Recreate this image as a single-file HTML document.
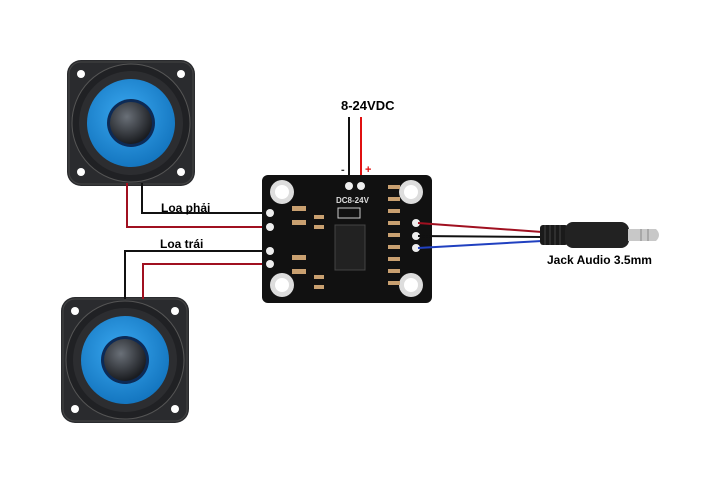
<!DOCTYPE html><html><head><meta charset="utf-8"><style>body{margin:0;background:#fff}svg{display:block}text{font-family:"Liberation Sans",sans-serif;font-weight:bold}</style></head><body>
<svg width="720" height="480" viewBox="0 0 720 480" xmlns="http://www.w3.org/2000/svg">
<defs>
<radialGradient id="blue" cx="45%" cy="40%" r="60%"><stop offset="0" stop-color="#3aa8f0"/><stop offset="1" stop-color="#1476c0"/></radialGradient>
<radialGradient id="dome" cx="40%" cy="35%" r="65%"><stop offset="0" stop-color="#6a7078"/><stop offset="1" stop-color="#1a1c20"/></radialGradient>
<g id="spk">
<rect x="-64" y="-63" width="128" height="126" rx="14" fill="#2a2b2e"/>
<rect x="-62" y="-61" width="124" height="122" rx="12" fill="none" stroke="#444" stroke-width="1"/>
<circle cx="-50" cy="-49" r="4" fill="#fff"/><circle cx="50" cy="-49" r="4" fill="#fff"/>
<circle cx="-50" cy="49" r="4" fill="#fff"/><circle cx="50" cy="49" r="4" fill="#fff"/>
<circle r="59" fill="#202124" stroke="#555" stroke-width="1"/>
<circle r="52" fill="#2c2d30"/>
<circle r="44" fill="url(#blue)"/>
<circle r="24" fill="#0d2a55"/>
<circle r="21" fill="url(#dome)"/>
</g>
</defs>
<use href="#spk" x="131" y="123"/>
<use href="#spk" x="125" y="360"/>
<!-- speaker wires -->
<polyline points="127,183 127,227 272,227" fill="none" stroke="#a01020" stroke-width="2"/>
<polyline points="142,183 142,213 272,213" fill="none" stroke="#111" stroke-width="2"/>
<polyline points="125,299 125,251 272,251" fill="none" stroke="#111" stroke-width="2"/>
<polyline points="143,299 143,264 272,264" fill="none" stroke="#a01020" stroke-width="2"/>
<text x="161" y="212" font-size="12">Loa phải</text>
<text x="160" y="248" font-size="12">Loa trái</text>
<!-- power -->
<line x1="349" y1="117" x2="349" y2="186" stroke="#111" stroke-width="2"/>
<line x1="361" y1="117" x2="361" y2="186" stroke="#e01010" stroke-width="2"/>
<text x="341" y="110" font-size="13">8-24VDC</text>
<text x="341" y="173" font-size="11" fill="#333">-</text>
<text x="365" y="173" font-size="11" fill="#e01010">+</text>
<!-- board -->
<rect x="262" y="175" width="170" height="128" rx="6" fill="#111"/>
<g fill="#ddd"><circle cx="282" cy="192" r="12"/><circle cx="411" cy="192" r="12"/><circle cx="282" cy="285" r="12"/><circle cx="411" cy="285" r="12"/></g>
<g fill="#fff"><circle cx="282" cy="192" r="7"/><circle cx="411" cy="192" r="7"/><circle cx="282" cy="285" r="7"/><circle cx="411" cy="285" r="7"/></g>
<rect x="335" y="225" width="30" height="45" fill="#222" stroke="#444"/>
<g fill="#c9a070"><rect x="292" y="206" width="14" height="5"/><rect x="292" y="220" width="14" height="5"/><rect x="292" y="255" width="14" height="5"/><rect x="292" y="269" width="14" height="5"/><rect x="314" y="215" width="10" height="4"/><rect x="314" y="225" width="10" height="4"/><rect x="314" y="275" width="10" height="4"/><rect x="314" y="285" width="10" height="4"/>
<rect x="388" y="185" width="12" height="4"/><rect x="388" y="197" width="12" height="4"/><rect x="388" y="209" width="12" height="4"/><rect x="388" y="221" width="12" height="4"/><rect x="388" y="233" width="12" height="4"/><rect x="388" y="245" width="12" height="4"/><rect x="388" y="257" width="12" height="4"/><rect x="388" y="269" width="12" height="4"/><rect x="388" y="281" width="12" height="4"/></g>
<rect x="338" y="208" width="22" height="10" fill="none" stroke="#ccc"/>
<text x="336" y="203" font-size="8" font-weight="normal" fill="#ddd">DC8-24V</text>
<g fill="#eee"><circle cx="349" cy="186" r="4"/><circle cx="361" cy="186" r="4"/><circle cx="270" cy="213" r="4"/><circle cx="270" cy="227" r="4"/><circle cx="270" cy="251" r="4"/><circle cx="270" cy="264" r="4"/><circle cx="416" cy="223" r="4"/><circle cx="416" cy="236" r="4"/><circle cx="416" cy="248" r="4"/></g>
<!-- jack wires -->
<line x1="418" y1="223" x2="542" y2="232" stroke="#a01020" stroke-width="2"/>
<line x1="418" y1="236" x2="542" y2="237" stroke="#111" stroke-width="2"/>
<line x1="418" y1="248" x2="542" y2="241" stroke="#2040c0" stroke-width="2"/>
<rect x="540" y="225" width="28" height="20" rx="3" fill="#1a1a1a"/>
<g stroke="#444" stroke-width="1"><line x1="545" y1="225" x2="545" y2="245"/><line x1="550" y1="225" x2="550" y2="245"/><line x1="555" y1="225" x2="555" y2="245"/><line x1="560" y1="225" x2="560" y2="245"/></g>
<rect x="565" y="222" width="64" height="26" rx="8" fill="#222"/>
<rect x="628" y="229" width="28" height="12" fill="#c8c8c8"/>
<path d="M656,229 Q662,235 656,241 Z" fill="#c8c8c8"/>
<line x1="641" y1="229" x2="641" y2="241" stroke="#888"/><line x1="648" y1="229" x2="648" y2="241" stroke="#888"/>
<text x="547" y="264" font-size="12">Jack Audio 3.5mm</text>
</svg></body></html>
